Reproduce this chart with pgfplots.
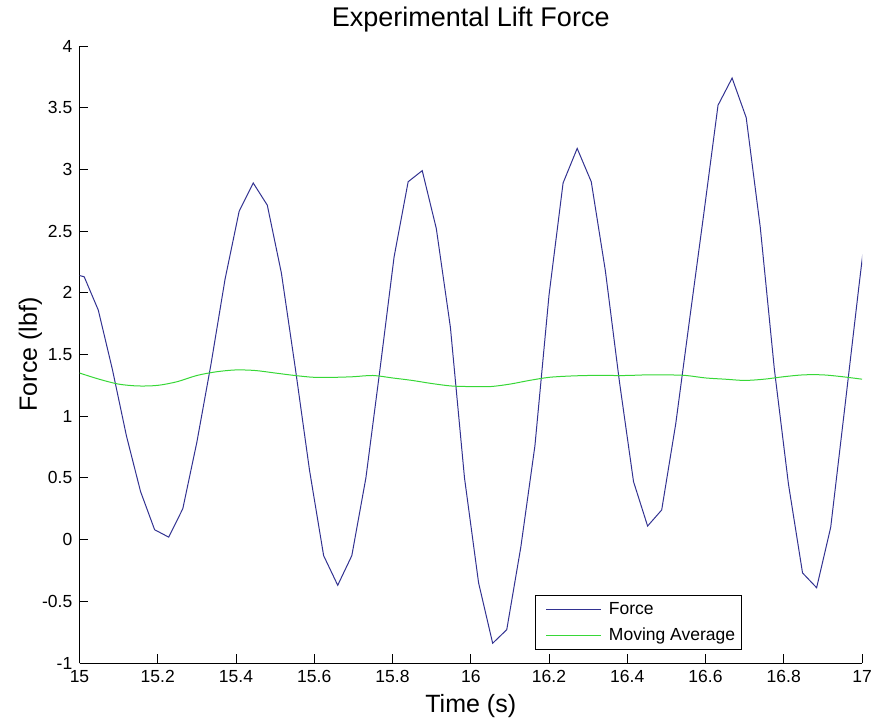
\documentclass[border=0pt]{standalone}
\usepackage{fontspec}
\setmainfont{Liberation Sans}
\usepackage{pgfplots}
\pgfplotsset{compat=1.18}
\usepackage{pgfplotstable}
\definecolor{forceblue}{RGB}{50,50,145}
\definecolor{avggreen}{RGB}{55,215,55}
\pgfplotstableread{
t f
14.976 2.16
15.012 2.13
15.048 1.86
15.084 1.38
15.120 0.84
15.156 0.39
15.192 0.08
15.228 0.02
15.264 0.25
15.300 0.79
15.336 1.42
15.372 2.11
15.408 2.66
15.444 2.89
15.480 2.71
15.516 2.16
15.552 1.38
15.588 0.56
15.624 -0.13
15.660 -0.37
15.696 -0.13
15.732 0.50
15.768 1.38
15.804 2.29
15.840 2.90
15.876 2.99
15.912 2.52
15.948 1.72
15.984 0.50
16.020 -0.35
16.056 -0.84
16.092 -0.73
16.128 -0.06
16.164 0.76
16.200 1.98
16.236 2.89
16.272 3.17
16.308 2.90
16.344 2.18
16.380 1.28
16.416 0.47
16.452 0.11
16.488 0.24
16.524 0.94
16.560 1.80
16.596 2.65
16.632 3.52
16.668 3.74
16.704 3.42
16.740 2.53
16.776 1.38
16.812 0.45
16.848 -0.27
16.884 -0.39
16.920 0.10
16.956 1.07
16.992 2.05
17.028 3.00
}\forcedata
\pgfplotstableread{
t m
15.00 1.35
15.05 1.30
15.10 1.26
15.15 1.245
15.20 1.25
15.25 1.28
15.30 1.33
15.35 1.36
15.40 1.375
15.45 1.37
15.50 1.35
15.55 1.33
15.60 1.315
15.65 1.315
15.70 1.32
15.75 1.33
15.80 1.31
15.85 1.29
15.90 1.265
15.95 1.245
16.00 1.24
16.05 1.24
16.10 1.26
16.15 1.29
16.20 1.315
16.25 1.325
16.30 1.33
16.35 1.33
16.40 1.33
16.45 1.335
16.50 1.335
16.55 1.33
16.60 1.31
16.65 1.30
16.70 1.29
16.75 1.30
16.80 1.32
16.85 1.335
16.90 1.335
16.95 1.32
17.00 1.30
}\avgdata
\begin{document}
\begin{tikzpicture}
\path[use as bounding box] (-79.5pt,-58pt) rectangle (794.5pt,663pt);
\begin{axis}[
  at={(0pt,0pt)}, anchor=south west,
  scale only axis, width=782.5pt, height=617pt,
  xmin=15, xmax=17, ymin=-1, ymax=4,
  xtick={15,15.2,15.4,15.6,15.8,16,16.2,16.4,16.6,16.8,17},
  ytick={-1,-0.5,0,0.5,1,1.5,2,2.5,3,3.5,4},
  axis x line=bottom, axis y line=left,
  axis line style={-, black, line width=0.9pt},
  tick align=inside, major tick length=9pt,
  tick style={black, line width=0.9pt},
  /pgf/number format/assume math mode=true,
  ticklabel style={font=\fontsize{17.5}{21}\selectfont},
  xticklabel style={anchor=north, inner sep=0pt, yshift=-7pt},
  yticklabel style={anchor=east, inner sep=0pt, xshift=-7pt},
  title={Experimental Lift Force},
  title style={at={(0.5,1)}, anchor=base, yshift=14pt, inner sep=0pt, font=\fontsize{27}{32}\selectfont},
  xlabel={Time (s)},
  xlabel style={at={(0.5,0)}, anchor=base, yshift=-49pt, inner sep=0pt, font=\fontsize{25}{30}\selectfont},
  legend style={at={(0.846,0.021)}, anchor=south east, draw=black, line width=0.8pt,
    inner xsep=3pt, inner ysep=2.5pt, row sep=3pt,
    font=\fontsize{17.5}{21}\selectfont,
    nodes={inner sep=3pt, text height=13pt, text depth=4pt}},
  legend cell align=left,
  legend image code/.code={\draw[#1, line width=1pt, shorten <=8pt, shorten >=4pt] (0pt,0pt) -- (67pt,0pt);},
]
\addplot[forceblue, line width=1pt] table[x=t, y=f] {\forcedata};
\addlegendentry{Force}
\addplot[avggreen, line width=1pt, smooth] table[x=t, y=m] {\avgdata};
\addlegendentry{Moving Average}
\end{axis}
\node[rotate=90, anchor=base, inner sep=0pt, font=\fontsize{25}{30}\selectfont] at (-42.5pt,308.5pt) {Force (lbf)};
\end{tikzpicture}
\end{document}
